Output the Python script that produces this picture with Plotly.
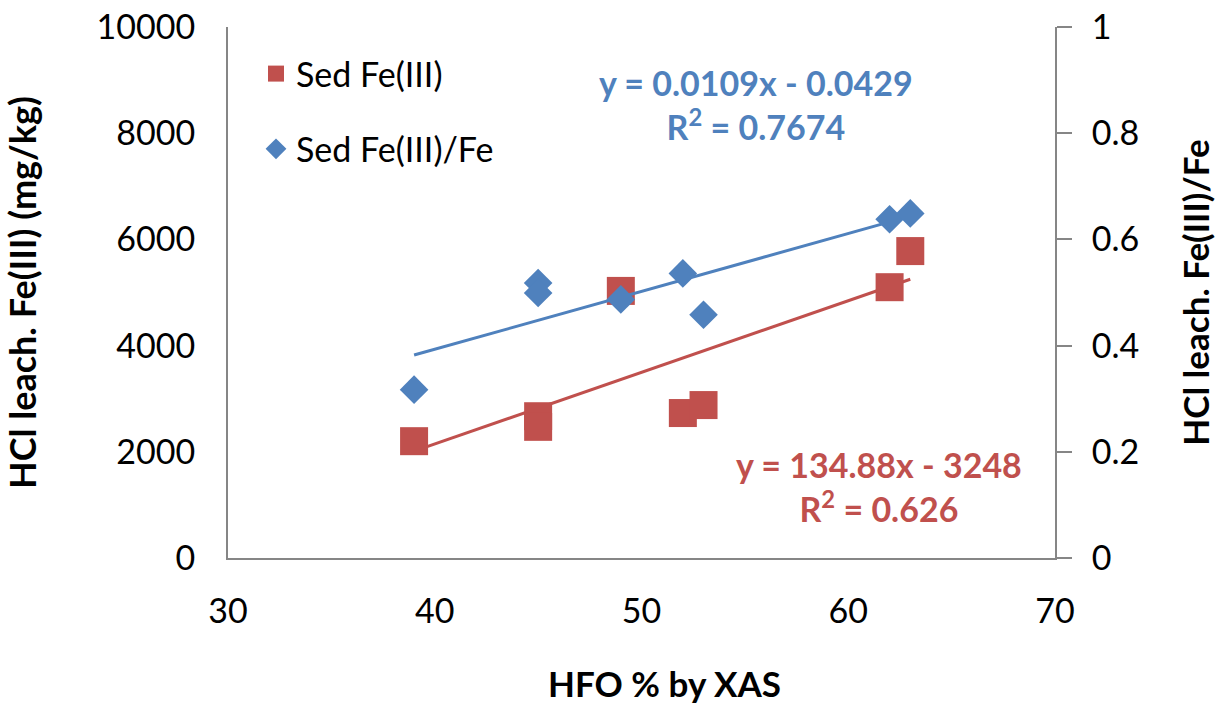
import plotly.graph_objects as go

# ---- data ----
hfo_pct = [39, 45, 45, 49, 52, 53, 62, 63]
sed_fe3 = [2200, 2670, 2470, 5030, 2730, 2880, 5100, 5780]
sed_fe3_ratio = [0.317, 0.518, 0.499, 0.487, 0.536, 0.458, 0.638, 0.649]

# linear trend lines as printed on the chart (slope, intercept)
fe3_fit = (134.88, -3248)
ratio_fit = (0.0109, -0.0429)

series_names = ["Sed Fe(III)", "Sed Fe(III)/Fe"]
eq_texts = ["y = 134.88x - 3248<br>R<sup>2</sup> = 0.626",
            "y = 0.0109x - 0.0429<br>R<sup>2</sup> = 0.7674"]
x_title = "HFO % by XAS"

RED = "#C0504D"
BLUE = "#4F81BD"
AXIS = "#868686"
FONT = "Lato"
FS = 34

x_line = [min(hfo_pct), max(hfo_pct)]

fig = go.Figure()
fig.add_trace(go.Scatter(
    x=x_line, y=[fe3_fit[0] * v + fe3_fit[1] for v in x_line],
    mode="lines", line=dict(color=RED, width=3), showlegend=False, hoverinfo="skip"))
fig.add_trace(go.Scatter(
    x=hfo_pct, y=sed_fe3, mode="markers", name=series_names[0],
    marker=dict(symbol="square", size=28, color=RED), legendgroup="a"))
fig.add_trace(go.Scatter(
    x=x_line, y=[ratio_fit[0] * v + ratio_fit[1] for v in x_line], yaxis="y2",
    mode="lines", line=dict(color=BLUE, width=3), showlegend=False, hoverinfo="skip"))
fig.add_trace(go.Scatter(
    x=hfo_pct, y=sed_fe3_ratio, mode="markers", name=series_names[1], yaxis="y2",
    marker=dict(symbol="diamond", size=22, color=BLUE), legendgroup="b"))

W, H = 1219, 707
L, R, T, B = 228, 164, 27, 149
pw, ph = W - L - R, H - T - B

def px(xp):
    return (xp - L) / pw

def py(yp):
    return (H - B - yp) / ph

fig.update_layout(
    width=W, height=H,
    margin=dict(l=L, r=R, t=T, b=B, autoexpand=False),
    paper_bgcolor="white", plot_bgcolor="white",
    font=dict(family=FONT, size=FS, color="#000000"),
    showlegend=True,
    legend=dict(x=px(256), y=py(45), xanchor="left", yanchor="top",
                bgcolor="rgba(0,0,0,0)", font=dict(size=FS),
                tracegroupgap=28, traceorder="grouped", itemwidth=30),
    xaxis=dict(range=[30, 70], tickvals=[30, 40, 50, 60, 70], showgrid=False,
               zeroline=False, showline=True, linecolor=AXIS, linewidth=2,
               ticks="", ticklabelstandoff=22),
    yaxis=dict(range=[0, 10000], tickvals=[0, 2000, 4000, 6000, 8000, 10000],
               tickformat="d",
               showgrid=False, zeroline=False, showline=True, linecolor=AXIS,
               linewidth=2, ticks="", ticklabelstandoff=24,
               title=dict(text="<b>HCl leach. Fe(III) (mg/kg)</b>", standoff=54,
                          font=dict(size=36))),
    yaxis2=dict(range=[0, 1], tickvals=[0, 0.2, 0.4, 0.6, 0.8, 1],
                overlaying="y", side="right", showgrid=False, zeroline=False,
                showline=True, linecolor=AXIS, linewidth=2,
                ticks="outside", ticklen=15, tickcolor=AXIS, tickwidth=2,
                ticklabelstandoff=13,
                title=dict(text="<b>HCl leach. Fe(III)/Fe</b>", standoff=46,
                           font=dict(size=35))),
)

# x-axis title (offset to the right of the plot centre, as in the reference)
fig.add_annotation(x=px(664), y=py(683), xref="paper", yref="paper",
                   xanchor="center", yanchor="middle",
                   text="<b>" + x_title + "</b>", showarrow=False,
                   font=dict(size=35, color="#000000"))

fig.add_annotation(x=px(879), y=py(486), xref="paper", yref="paper",
                   xanchor="center", yanchor="middle",
                   text="<b>" + eq_texts[0] + "</b>", showarrow=False,
                   font=dict(color=RED, size=FS), align="center")
fig.add_annotation(x=px(756), y=py(105), xref="paper", yref="paper",
                   xanchor="center", yanchor="middle",
                   text="<b>" + eq_texts[1] + "</b>", showarrow=False,
                   font=dict(color=BLUE, size=FS), align="center")

fig.write_html("out.html")
